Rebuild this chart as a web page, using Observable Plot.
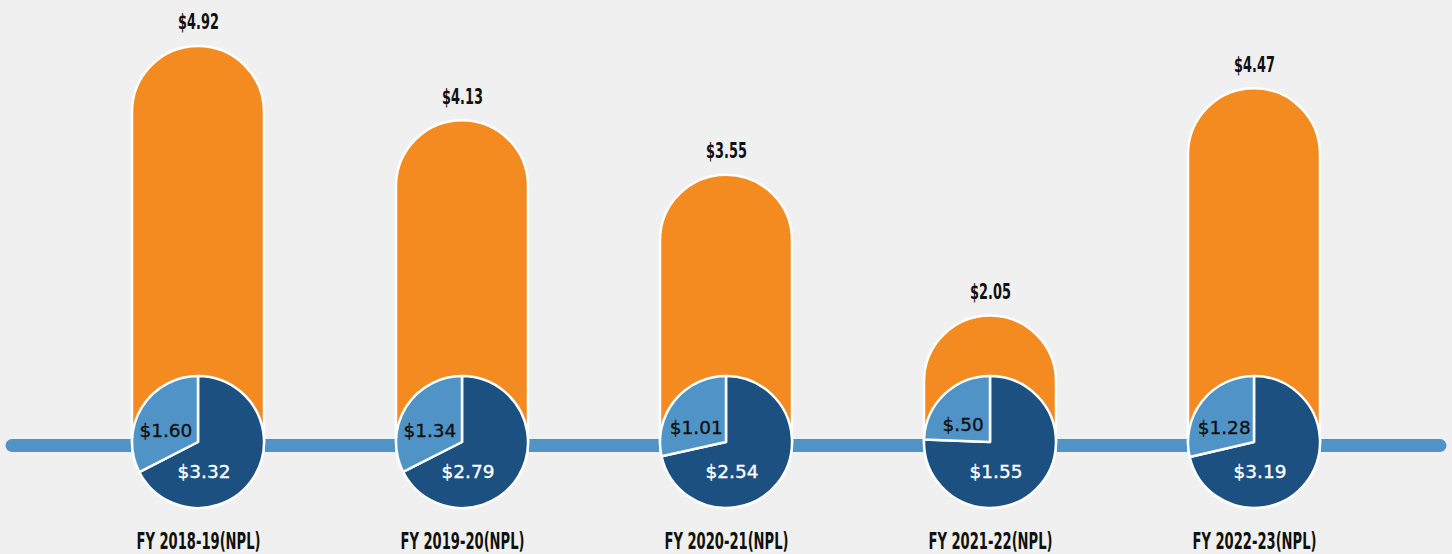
<!DOCTYPE html>
<html>
<head>
<meta charset="utf-8">
<script src="https://cdn.jsdelivr.net/npm/d3@7"></script>
<script src="https://cdn.jsdelivr.net/npm/@observablehq/plot@0.6"></script>
<style>
  html, body { margin: 0; padding: 0; background: #f0f0f0; }
  #chart svg { display: block; background: #f0f0f0; }
</style>
</head>
<body>
<div id="chart"></div>
<script>
// ---- data ----
const years = ["FY 2018-19(NPL)", "FY 2019-20(NPL)", "FY 2020-21(NPL)", "FY 2021-22(NPL)", "FY 2022-23(NPL)"];
const totals = [4.92, 4.13, 3.55, 2.05, 4.47];
const darkPart = [3.32, 2.79, 2.54, 1.55, 3.19];
const lightPart = [1.60, 1.34, 1.01, 0.50, 1.28];

const ORANGE = "#f38b20";
const DARK = "#1c5081";
const LIGHT = "#5094c7";
const BG = "#f0f0f0";

const fmt = v => "$" + v.toFixed(2).replace(/^0/, "");
const rows = years.map((year, i) => ({year, total: totals[i], dark: darkPart[i], light: lightPart[i]}));

const pieFont = "'DejaVu Sans', sans-serif";

// custom pie mark positioned with Plot's scales
function pies(index, scales) {
  const x = scales.x, y = scales.y;
  const bw = x.bandwidth ? x.bandwidth() : 132;
  const R = bw / 2;
  const g = d3.create("svg:g").attr("aria-label", "pies");
  rows.forEach(d => {
    const cx = x(d.year) + bw / 2;
    const cy = y(0) - R;
    const grp = g.append("g").attr("transform", `translate(${cx},${cy})`);
    const split = 2 * Math.PI * d.dark / d.total;
    const arc = d3.arc().innerRadius(0).outerRadius(R);
    grp.append("path")
      .attr("d", arc({startAngle: 0, endAngle: split}))
      .attr("fill", DARK).attr("stroke", "white").attr("stroke-width", 2.5).attr("stroke-linejoin", "round");
    grp.append("path")
      .attr("d", arc({startAngle: split, endAngle: 2 * Math.PI}))
      .attr("fill", LIGHT).attr("stroke", "white").attr("stroke-width", 2.5).attr("stroke-linejoin", "round");
    const c = arc.centroid({startAngle: split, endAngle: 2 * Math.PI});
    const lx = Math.max(-R * 0.55, c[0] - 4);
    const ly = c[1] + 6;
    grp.append("text")
      .attr("x", lx).attr("y", ly)
      .attr("text-anchor", "middle").attr("dominant-baseline", "central")
      .attr("font-family", pieFont).attr("font-size", 18.5)
      .attr("fill", "#111").attr("stroke", "#111").attr("stroke-width", 0.35)
      .text(fmt(d.light));
    grp.append("text")
      .attr("x", R * 0.09).attr("y", R * 0.44)
      .attr("text-anchor", "middle").attr("dominant-baseline", "central")
      .attr("font-family", pieFont).attr("font-size", 18.5)
      .attr("fill", "white").attr("stroke", "white").attr("stroke-width", 0.35)
      .text(fmt(d.dark));
  });
  return g.node();
}

const condensed = "'DejaVu Sans', sans-serif";

const chart = Plot.plot({
  width: 1452,
  height: 554,
  marginLeft: 12,
  marginRight: 12,
  marginTop: 0,
  marginBottom: 0,
  style: {background: BG},
  x: {domain: years, range: [66, 1386], paddingInner: 0.5, paddingOuter: 0.25, axis: null},
  y: {domain: [0, 5], range: [508, 38.5], axis: null},
  marks: [
    Plot.ruleY([0], {dy: -63, stroke: LIGHT, strokeWidth: 13, strokeLinecap: "round"}),
    Plot.barY(rows, {x: "year", y: "total", fill: ORANGE, stroke: "white", strokeWidth: 2.5, rx: 66, ry: 66}),
    pies,
    Plot.text(rows, {x: "year", y: "total", text: d => fmt(d.total), dy: -24,
      fontFamily: condensed, fontWeight: "bold", fontSize: 21.5, fill: "#111"}),
    Plot.text(rows, {x: "year", y: () => 0, text: "year", dy: 33,
      fontFamily: condensed, fontWeight: "bold", fontSize: 23, fill: "#111"})
  ]
});
document.getElementById("chart").appendChild(chart);

// horizontally condense the bold labels (no condensed font installed)
const valueTexts = new Set(totals.map(fmt));
const yearTexts = new Set(years);
d3.select(chart).selectAll("text").each(function() {
  const t = this.textContent;
  let factor = null;
  if (valueTexts.has(t)) factor = 0.6;
  else if (yearTexts.has(t)) factor = 0.57;
  if (factor) {
    const len = this.getComputedTextLength();
    if (len > 0) {
      this.setAttribute("textLength", (len * factor).toFixed(1));
      this.setAttribute("lengthAdjust", "spacingAndGlyphs");
    }
  }
});
</script>
</body>
</html>
